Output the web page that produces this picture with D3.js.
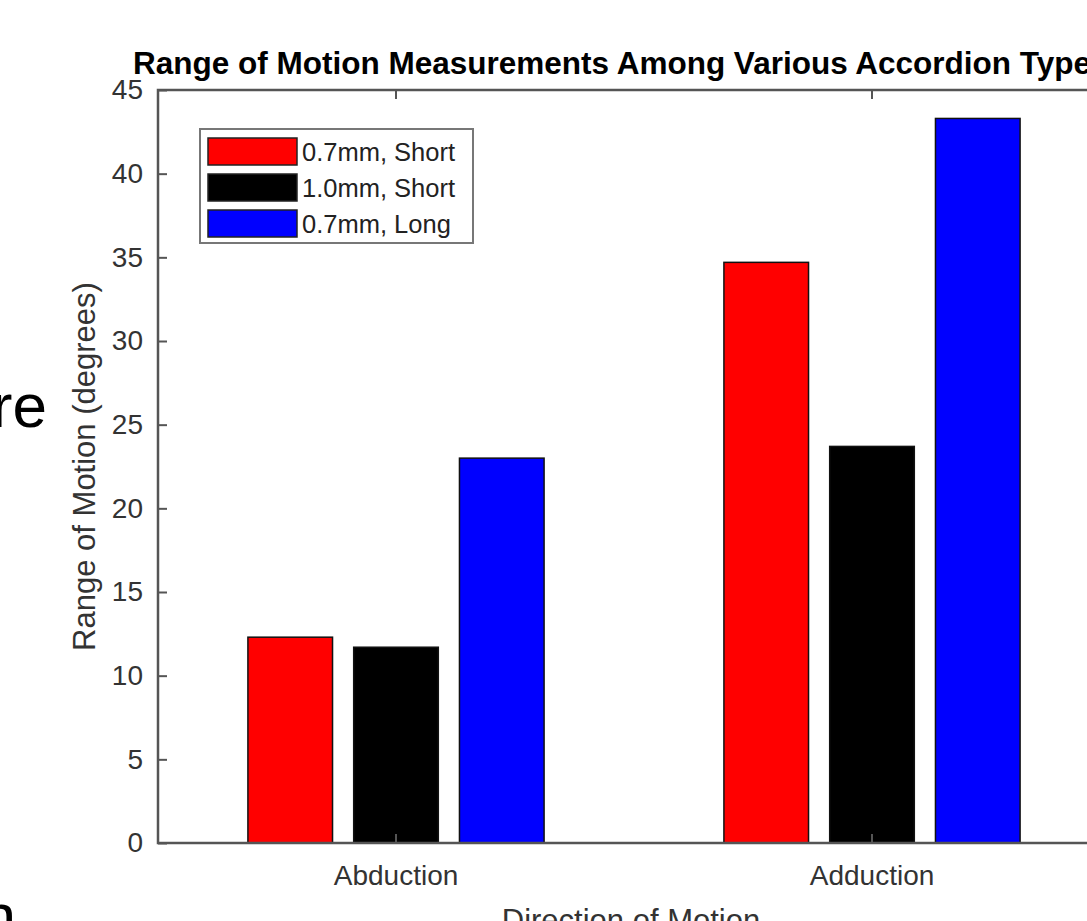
<!DOCTYPE html>
<html>
<head>
<meta charset="utf-8">
<script src="https://cdn.jsdelivr.net/npm/d3@7"></script>
<style>
  html, body { margin: 0; padding: 0; background: #fff; overflow: hidden; }
  svg { display: block; font-family: "Liberation Sans", Arial, Helvetica, sans-serif; }
</style>
</head>
<body>
<svg id="chart"></svg>
<script>
const categories = ["Abduction", "Adduction"];
const series = ["0.7mm, Short", "1.0mm, Short", "0.7mm, Long"];
const abductionValues = [12.3, 11.7, 23.0];
const adductionValues = [34.7, 23.7, 43.3];
const yTicks = [0, 5, 10, 15, 20, 25, 30, 35, 40, 45];
const seriesColors = ["#ff0000", "#000000", "#0000ff"];

const width = 1087;
const height = 921;

// plot box (right side runs past the visible edge, like the cropped screenshot)
const plotLeft = 158, plotTop = 90, plotRight = 1110, plotBottom = 843;

const rows = categories.map((c, i) => ({
    category: c,
    values: [abductionValues, adductionValues][i]
}));

const svg = d3.select("#chart")
    .attr("width", width)
    .attr("height", height);

svg.append("rect")
    .attr("width", width)
    .attr("height", height)
    .attr("fill", "#fff");

const x0 = d3.scaleBand()
    .domain(categories)
    .range([plotLeft, plotRight])
    .padding(0);

const groupWidth = x0.bandwidth() * 2 / 3;
const x1 = d3.scaleBand()
    .domain(series)
    .range([-groupWidth / 2, groupWidth / 2])
    .paddingInner(0.2)
    .paddingOuter(0.1);

const y = d3.scaleLinear()
    .domain([0, 45])
    .range([plotBottom, plotTop]);

// bars
const groups = svg.append("g")
    .selectAll("g")
    .data(rows)
    .enter().append("g")
    .attr("transform", d => `translate(${x0(d.category) + x0.bandwidth() / 2},0)`);

groups.selectAll("rect")
    .data(d => d.values.map((v, i) => ({ key: series[i], value: v, color: seriesColors[i] })))
    .enter().append("rect")
    .attr("x", d => x1(d.key))
    .attr("y", d => y(d.value))
    .attr("width", x1.bandwidth())
    .attr("height", d => y(0) - y(d.value))
    .attr("fill", d => d.color)
    .attr("stroke", "#111")
    .attr("stroke-width", 1.5);

// axes, ticks pointing inward
const axisColor = "#555";

const yAxis = svg.append("g")
    .attr("transform", `translate(${plotLeft},0)`)
    .call(d3.axisLeft(y).tickValues(yTicks).tickSize(-9).tickPadding(15));

const yAxisRight = svg.append("g")
    .attr("transform", `translate(${plotRight},0)`)
    .call(d3.axisRight(y).tickValues(yTicks).tickSize(-9).tickFormat(""));

const xAxis = svg.append("g")
    .attr("transform", `translate(0,${plotBottom})`)
    .call(d3.axisBottom(x0).tickSize(-9).tickPadding(22));

const xAxisTop = svg.append("g")
    .attr("transform", `translate(0,${plotTop})`)
    .call(d3.axisTop(x0).tickSize(-9).tickFormat(""));

[yAxis, yAxisRight, xAxis, xAxisTop].forEach(a => {
    a.select(".domain").remove();
    a.selectAll("line").attr("stroke", axisColor).attr("stroke-width", 2);
    a.selectAll("text")
        .attr("fill", "#333")
        .attr("font-size", 28)
        .attr("font-family", "Liberation Sans, Arial, sans-serif");
});

// box outline
svg.append("rect")
    .attr("x", plotLeft)
    .attr("y", plotTop)
    .attr("width", plotRight - plotLeft)
    .attr("height", plotBottom - plotTop)
    .attr("fill", "none")
    .attr("stroke", axisColor)
    .attr("stroke-width", 2.5);

// titles
svg.append("text")
    .attr("x", 133)
    .attr("y", 74)
    .attr("font-size", 31.5)
    .attr("font-weight", "bold")
    .attr("fill", "#000")
    .text("Range of Motion Measurements Among Various Accordion Types");

svg.append("text")
    .attr("transform", `translate(95,${(plotTop + plotBottom) / 2}) rotate(-90)`)
    .attr("text-anchor", "middle")
    .attr("font-size", 31)
    .attr("fill", "#333")
    .text("Range of Motion (degrees)");

svg.append("text")
    .attr("x", (plotLeft + plotRight) / 2 - 3)
    .attr("y", 931)
    .attr("text-anchor", "middle")
    .attr("font-size", 31)
    .attr("fill", "#333")
    .text("Direction of Motion");

// legend
const legend = svg.append("g").attr("transform", "translate(200,129)");

legend.append("rect")
    .attr("width", 273)
    .attr("height", 114)
    .attr("fill", "#fff")
    .attr("stroke", "#777")
    .attr("stroke-width", 2);

const items = legend.selectAll("g.item")
    .data(series)
    .enter().append("g")
    .attr("class", "item")
    .attr("transform", (d, i) => `translate(8,${9 + i * 36})`);

items.append("rect")
    .attr("width", 89)
    .attr("height", 27)
    .attr("fill", (d, i) => seriesColors[i])
    .attr("stroke", "#222")
    .attr("stroke-width", 1.5);

items.append("text")
    .attr("x", 94)
    .attr("y", 14)
    .attr("dy", "0.35em")
    .attr("font-size", 25.5)
    .attr("fill", "#222")
    .text(d => d);

// fragments of the surrounding slide
svg.append("text")
    .attr("x", 47)
    .attr("y", 427)
    .attr("text-anchor", "end")
    .attr("font-size", 62)
    .attr("fill", "#000")
    .text("re");

svg.append("text")
    .attr("x", 16)
    .attr("y", 937)
    .attr("text-anchor", "end")
    .attr("font-size", 62)
    .attr("fill", "#000")
    .text("n");
</script>
</body>
</html>
